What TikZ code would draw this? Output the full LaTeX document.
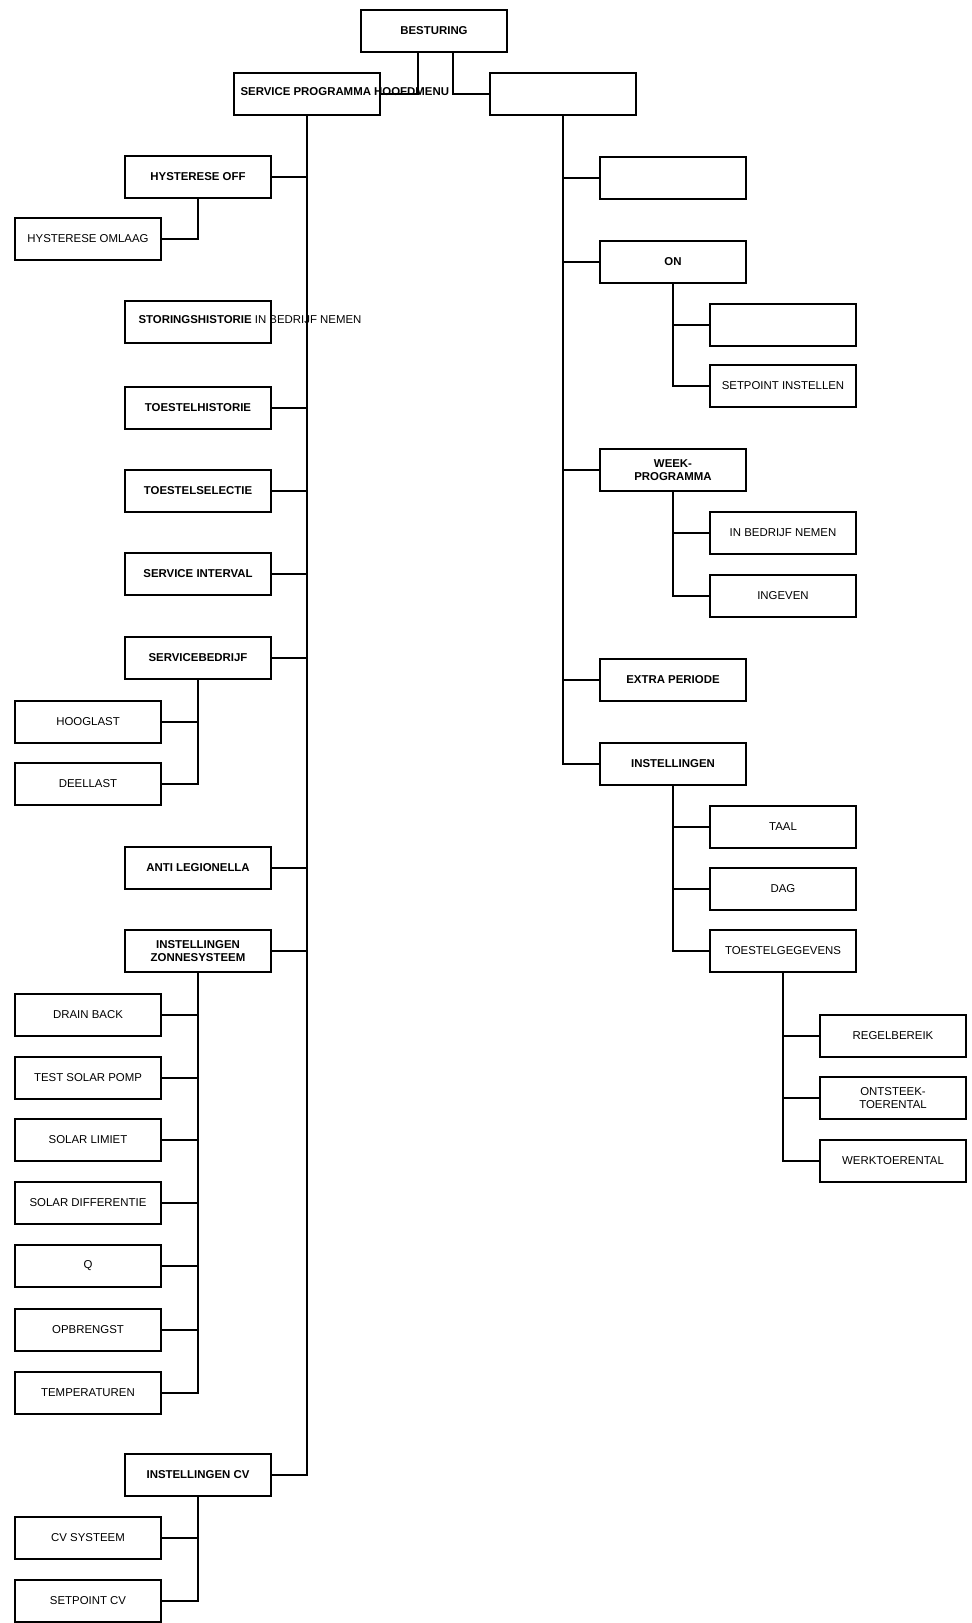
\documentclass[tikz,border=0pt]{standalone}
\usepackage{fontspec}
\setmainfont{Liberation Sans}
\usetikzlibrary{positioning}
\tikzset{
  box/.style={draw,rectangle,minimum width=2.92cm,minimum height=0.84cm,inner sep=1pt,
    font=\fontsize{6.5}{7.8}\selectfont,align=center},
  main/.style={box,font=\fontsize{6.5}{7.8}\selectfont\bfseries},
  free/.style={anchor=west,inner sep=0pt,font=\fontsize{6.5}{7.8}\selectfont},
  link/.style={line width=0.6pt}
}
\begin{document}
\begin{tikzpicture}[x=0.02cm,y=-0.02cm,line width=0.6pt]
\useasboundingbox (0,0) rectangle (971,1623);
%top
\node[main] (besturing) at (434,31) {BESTURING};
\node[box] (service) at (307,94) {};
\node[free,font=\fontsize{6.5}{7.8}\selectfont\bfseries] (servicetxt) at (240,92) {SERVICE PROGRAMMA HOOFDMENU};
\node[box] (hoofd) at (563,94) {};
\draw[link] (besturing.south -| 418,0) |- (service.east);
\draw[link] (besturing.south -| 453,0) |- (hoofd.west);

%left trunk
\foreach \name/\y/\txt in {hoff/177/HYSTERESE OFF, thist/408/TOESTELHISTORIE,
  tsel/491/TOESTELSELECTIE, sint/574/SERVICE INTERVAL, sbedr/658/SERVICEBEDRIJF,
  anti/868/ANTI LEGIONELLA, zon/951/{INSTELLINGEN\\ZONNESYSTEEM}, icv/1475/INSTELLINGEN CV}
  {\node[main] (\name) at (198,\y) {\txt};
   \draw[link] (service.south) |- (\name.east);}
\node[main] (stor) at (198,322) {};
\node[free,font=\fontsize{6.5}{7.8}\selectfont\bfseries] (stortxt) at (138,320) {STORINGSHISTORIE \mdseries IN BEDRIJF NEMEN};

%left sub boxes
\node[box] (omlaag) at (88,239) {HYSTERESE OMLAAG};
\draw[link] (hoff.south) |- (omlaag.east);
\foreach \name/\y/\txt in {hoog/722/HOOGLAST, deel/784/DEELLAST}
  {\node[box] (\name) at (88,\y) {\txt};
   \draw[link] (sbedr.south) |- (\name.east);}
\foreach \name/\y/\txt in {drain/1015/DRAIN BACK, pomp/1078/TEST SOLAR POMP,
  limiet/1140/SOLAR LIMIET, diff/1203/SOLAR DIFFERENTIE, sensor/1266/Q/T-SENSOR,
  opbr/1330/OPBRENGST, temp/1393/TEMPERATUREN}
  {\node[box] (\name) at (88,\y) {\txt};
   \draw[link] (zon.south) |- (\name.east);}
\foreach \name/\y/\txt in {cvsys/1538/CV SYSTEEM, spcv/1601/SETPOINT CV}
  {\node[box] (\name) at (88,\y) {\txt};
   \draw[link] (icv.south) |- (\name.east);}

%right trunk
\foreach \name/\y/\txt in {leeg/178/{}, on/262/ON, week/470/{WEEK-\\PROGRAMMA},
  extra/680/EXTRA PERIODE, inst/764/INSTELLINGEN}
  {\node[main] (\name) at (673,\y) {\txt};
   \draw[link] (hoofd.south) |- (\name.west);}
\foreach \up/\name/\y/\txt in {on/onleeg/325/{}, on/spin/386/SETPOINT INSTELLEN,
  week/ibn/533/IN BEDRIJF NEMEN, week/ingeven/596/INGEVEN,
  inst/taal/827/TAAL, inst/dag/889/DAG/TIJD, inst/toest/951/TOESTELGEGEVENS}
  {\node[box] (\name) at (783,\y) {\txt};
   \draw[link] (\up.south) |- (\name.west);}
\foreach \name/\y/\txt in {regel/1036/REGELBEREIK, ontst/1098/{ONTSTEEK-\\TOERENTAL},
  werk/1161/WERKTOERENTAL}
  {\node[box] (\name) at (893,\y) {\txt};
   \draw[link] (toest.south) |- (\name.west);}
\end{tikzpicture}
\end{document}
